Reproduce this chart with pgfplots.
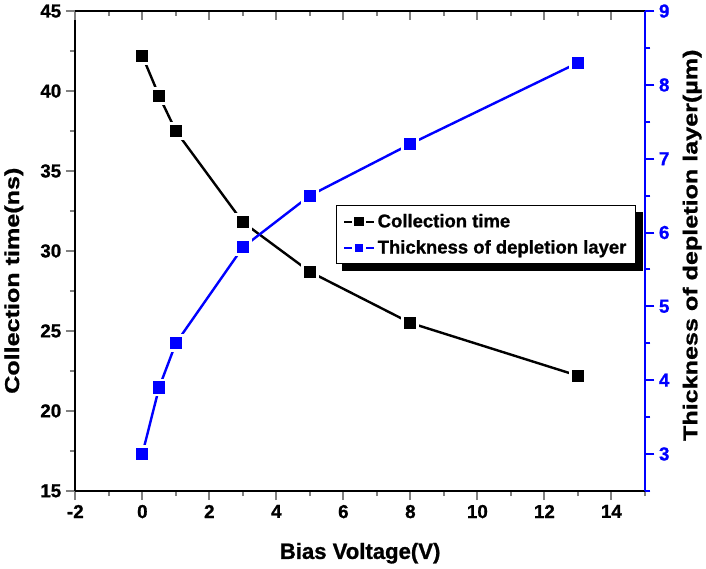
\documentclass[border=0pt]{standalone}
\usepackage{fontspec}
\setmainfont{Liberation Sans}[BoldFeatures={FakeBold=1}]
\newfontfamily\widefont[FakeStretch=1.25, BoldFeatures={FakeBold=1}]{Liberation Sans}
\usepackage{pgfplots}
\pgfplotsset{compat=1.18}
\usetikzlibrary{backgrounds}
\definecolor{dblue}{RGB}{0,0,255}

\newcommand\tickfont{\fontsize{14}{15}\selectfont\bfseries}
\newcommand\legfont{\fontsize{13.8}{15}\selectfont\bfseries}

\pgfplotsset{
  common/.style={
    scale only axis, width=425pt, height=358pt,
    xmin=-2, xmax=15,
    xtick={-2,0,...,14}, minor xtick={-1,1,...,15},
    axis line style={line width=1.5pt},
    major tick style={line width=1.5pt},
    minor tick style={line width=1.5pt},
    major tick length=7pt, minor tick length=4pt,
    /pgf/number format/assume math mode=true,
    xticklabel style={font=\tickfont},
    yticklabel style={font=\tickfont},
    label style={font=\bfseries\fontsize{16.5}{18}\selectfont},
  },
  ringmark/.style={mark=square*, mark size=5.6pt,
    mark options={fill=#1, draw=white, line width=2.2pt, solid}},
}

\begin{document}
\begin{tikzpicture}
% left axis: collection time
\begin{axis}[common,
  axis x line*=bottom, axis y line*=left,
  tick align=outside,
  ymin=15, ymax=45, ytick={15,20,...,45}, minor ytick={17.5,22.5,...,42.5},
  xlabel={Bias Voltage(V)},
  ylabel={\widefont\fontsize{15}{17}\selectfont Collection time(ns)},
  ylabel style={at={(axis description cs:-0.108,0.438)}, anchor=center},
  xlabel style={at={(axis description cs:0.5,-0.13)}, anchor=center},
]
\addplot[black, line width=1.8pt, ringmark=black] coordinates {
  (0,42.2) (0.5,39.7) (1,37.5) (3,31.8) (5,28.7) (8,25.5) (13,22.2)
};
\end{axis}
% top axis line with inward ticks
\begin{axis}[common,
  axis x line*=top, hide y axis,
  tick align=inside, xticklabels={},
  ymin=0, ymax=1,
]
\end{axis}
% right axis: thickness of depletion layer
\begin{axis}[common,
  axis y line*=right, hide x axis,
  tick align=outside,
  y axis line style={dblue, line width=1.5pt},
  major tick style={dblue, line width=1.5pt},
  minor tick style={dblue, line width=1.5pt},
  yticklabel style={dblue, font=\tickfont},
  ymin=2.5, ymax=9, ytick={3,...,9}, minor ytick={2.5,3.5,...,8.5},
  ylabel={\widefont\fontsize{15}{17}\selectfont Thickness of depletion layer(\textmu m)},
  ylabel style={at={(axis description cs:1.083,0.512)}, anchor=center},
  legend style={name=leg, at={(axis description cs:0.457,0.595)}, anchor=north west,
    draw=black, line width=0.8pt, fill=white,
    font=\legfont,
    inner xsep=5pt, inner ysep=4pt, row sep=4pt},
  legend cell align=left,
  legend image code/.code={
    \draw[#1, mark=none] (0cm,0cm) -- (0.78cm,0cm);
    \draw[#1, mark size=4.2pt] plot coordinates {(0.39cm,0cm)};},
]
\addlegendimage{black, line width=1.6pt, mark=square*, mark options={fill=black, draw=white, line width=1.6pt, solid}}
\addlegendentry{\legfont Collection time}
\addplot[dblue, line width=1.8pt, ringmark=dblue] coordinates {
  (0,3.0) (0.5,3.9) (1,4.5) (3,5.8) (5,6.5) (8,7.2) (13,8.3)
};
\addlegendentry{\legfont Thickness of depletion layer}
\end{axis}
% legend shadow
\begin{scope}[on background layer]
\fill[black] ([shift={(5pt,-5pt)}]leg.south west) rectangle ([shift={(5pt,-5pt)}]leg.north east);
\end{scope}
\end{tikzpicture}
\end{document}
